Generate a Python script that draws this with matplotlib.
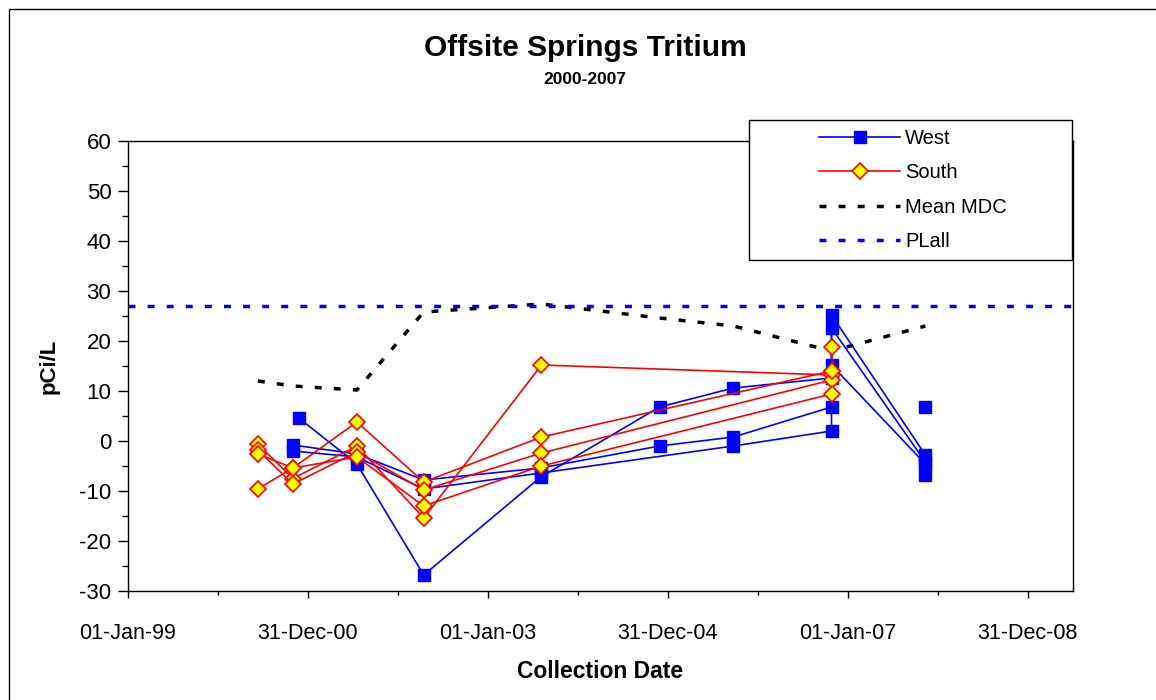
import matplotlib
matplotlib.use("Agg")
import matplotlib.pyplot as plt
import matplotlib.dates as mdates
import pandas as pd
from matplotlib.lines import Line2D
from matplotlib.patches import Rectangle
from matplotlib.ticker import FixedLocator, MultipleLocator

plt.rcParams["font.family"] = ["Liberation Sans", "DejaVu Sans"]
plt.rcParams["axes.unicode_minus"] = False

# West springs (blue squares), one list per spring
west_1_dates = ["2000-11-24", "2001-07-18", "2002-04-15", "2003-08-03", "2004-11-27",
                "2005-09-23", "2006-10-26", "2006-10-26", "2007-11-11"]
west_1_vals = [4.6, -4.6, -26.8, -7.2, 6.8, 10.6, 12.6, 25.2, -2.8]

west_2_dates = ["2000-10-31", "2001-07-18", "2002-04-15", "2003-08-03", "2004-11-27",
                "2005-09-23", "2006-10-26", "2006-10-26", "2007-11-11"]
west_2_vals = [-0.8, -2.6, -7.8, -5.4, -1.0, 0.8, 6.8, 15.2, -4.6]

west_3_dates = ["2000-10-31", "2001-07-18", "2002-04-15", "2003-08-03",
                "2005-09-23", "2006-10-26", "2006-10-26", "2007-11-11"]
west_3_vals = [-2.0, -3.2, -9.6, -6.4, -1.0, 2.0, 22.6, -4.2]

# single samples, no line
west_4_dates = ["2007-11-11", "2007-11-11"]
west_4_vals = [6.8, -6.8]

# South springs (yellow diamonds)
south_dates = ["2000-06-11", "2000-10-31", "2001-07-18", "2002-04-15", "2003-08-06", "2006-10-26"]
south_1_vals = [-9.6, -5.4, 3.8, -8.2, 0.8, 14.0]
south_2_vals = [-0.6, -7.5, -1.0, -15.4, 15.2, 13.2]
south_3_vals = [-1.8, -8.6, -2.2, -9.8, -2.4, 12.2]
south_4_vals = [-2.6, -5.4, -3.2, -13.0, -5.0, 9.4]
# second sample of spring 1 on the last date
south_1_extra_date = ["2006-10-26", "2006-10-26"]
south_1_extra_vals = [14.0, 18.8]

# mean MDC
mdc_dates = ["2000-06-11", "2000-10-31", "2001-07-18", "2002-04-15", "2003-08-06",
             "2004-11-27", "2005-09-23", "2006-10-26", "2007-11-11"]
mdc_vals = [12.0, 11.0, 10.2, 25.8, 27.4, 24.6, 23.0, 18.0, 23.0]

plall = 27.0

major_ticks = ["1999-01-01", "2000-12-31", "2003-01-01", "2004-12-31", "2007-01-01", "2008-12-31"]

W = 1156
H = 700
fig = plt.figure(figsize=(W / 100, H / 100), dpi=100)
ax = fig.add_axes([128 / W, 1 - 591 / H, (1073 - 128) / W, (591 - 141) / H])

blue = "#0000FF"
red = "#FF0000"
wkw = dict(color=blue, lw=1.2, marker="s", ms=8.5, mfc=blue, mec=blue)
skw = dict(color=red, lw=1.2, marker="D", ms=8.3, mfc="#FFFF00", mec=red, mew=1.2)
dots = (0, (2, 3.5))

d = pd.to_datetime

ax.plot(d(mdc_dates), mdc_vals, color="black", lw=2.5, linestyle=dots, zorder=2)
ax.axhline(plall, color=blue, lw=2.5, linestyle=dots, zorder=2)

ax.plot(d(west_1_dates), west_1_vals, **wkw, zorder=3)
ax.plot(d(west_2_dates), west_2_vals, **wkw, zorder=3)
ax.plot(d(west_3_dates), west_3_vals, **wkw, zorder=3)
ax.plot(d(west_4_dates), west_4_vals, linestyle="none", marker="s", ms=8.5, color=blue, zorder=3)

for vals in [south_1_vals, south_2_vals, south_3_vals, south_4_vals]:
    ax.plot(d(south_dates), vals, **skw, zorder=4)
ax.plot(d(south_1_extra_date), south_1_extra_vals, **skw, zorder=4)

# axes
xmin = mdates.date2num(d("1999-01-01"))
ax.set_xlim(xmin, xmin + 3835)
ax.set_ylim(-30, 60)
ax.yaxis.set_major_locator(MultipleLocator(10))
ax.yaxis.set_minor_locator(MultipleLocator(5))
majors = [mdates.date2num(d(t)) for t in major_ticks]
ax.xaxis.set_major_locator(FixedLocator(majors))
ax.xaxis.set_minor_locator(FixedLocator([m + 365 for m in majors]))
ax.xaxis.set_major_formatter(mdates.DateFormatter("%d-%b-%y"))

for s in ax.spines.values():
    s.set_linewidth(1.0)
ax.tick_params(axis="y", which="major", length=7, width=1, pad=5, labelsize=16)
ax.tick_params(axis="y", which="minor", length=4.5, width=1)
ax.tick_params(axis="x", which="major", length=5, width=1, pad=18, labelsize=15.5)
ax.tick_params(axis="x", which="minor", length=3, width=1)

fig.text(585 / W, 1 - 48 / H, "Offsite Springs Tritium", fontsize=21.5, fontweight="bold",
         ha="center", va="center")
fig.text(585 / W, 1 - 79 / H, "2000-2007", fontsize=12.5, fontweight="bold",
         ha="center", va="center")
fig.text(49 / W, 1 - 366 / H, "pCi/L", fontsize=16, fontweight="bold", rotation=90,
         ha="center", va="center")
fig.text(600 / W, 1 - 671 / H, "Collection Date", fontsize=16.5, fontweight="bold",
         ha="center", va="center")

# chart border
fig.patches.append(Rectangle((9 / W, -0.1), 1.2, 1.1 - 9 / H, transform=fig.transFigure,
                             fill=False, ec="black", lw=1))

# legend box
fig.patches.append(Rectangle((749 / W, 1 - 260 / H), (1072 - 749) / W, 140 / H,
                             transform=fig.transFigure, fc="white", ec="black", lw=1, zorder=2))
handles = [
    Line2D([], [], **wkw),
    Line2D([], [], **skw),
    Line2D([], [], color="black", lw=2.5, linestyle=dots),
    Line2D([], [], color=blue, lw=2.5, linestyle=dots),
]
fig.legend(handles, ["West", "South", "Mean MDC", "PLall"], loc="upper left",
           bbox_to_anchor=(819 / W, 1 - 129 / H), frameon=False, borderpad=0,
           borderaxespad=0, fontsize=14.5, handlelength=4.03, handletextpad=0.25,
           labelspacing=0.76)

fig.savefig("out.png", dpi=100)
